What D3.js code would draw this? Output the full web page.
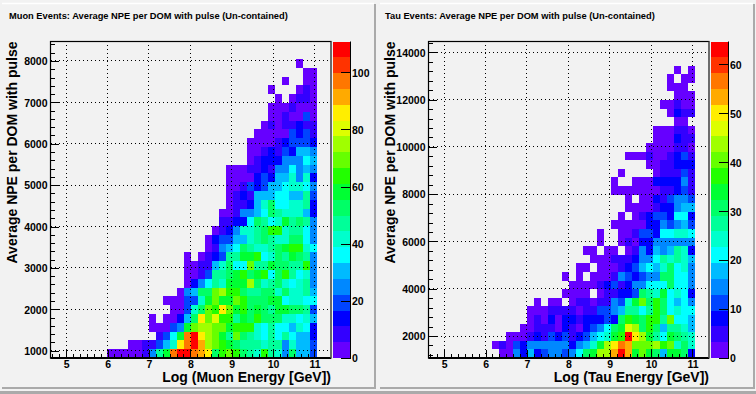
<!DOCTYPE html>
<html>
<head>
<meta charset="utf-8">
<script src="https://cdn.jsdelivr.net/npm/d3@7"></script>
<style>
    body { margin: 0; background: #f2f2f2; }
    text { font-family: "Liberation Sans", Arial, sans-serif; font-weight: bold; fill: #000; }
    .axis path { display: none; }
    .axis line { stroke: #000; stroke-width: 1; shape-rendering: crispEdges; }
    .grid-line { stroke: #000; stroke-width: 1; stroke-dasharray: 1 3; shape-rendering: crispEdges; }
</style>
</head>
<body>
<div id="chart"></div>
<script>
// colour bands, bottom to top
const palette = ["#6600ff", "#3300ff", "#0000ff", "#0044ff", "#0088ff", "#00bbff", "#00ffff", "#00ffcc",
    "#00ff99", "#00ff66", "#00ff33", "#22ff00", "#66ff00", "#a0ff00", "#ddff00", "#ffee00",
    "#ffaa00", "#ff7700", "#ff3300", "#ff0000"];

const yearTicks = [5, 6, 7, 8, 9, 10, 11];
const muonYTicks = [1000, 2000, 3000, 4000, 5000, 6000, 7000, 8000];
const tauYTicks = [2000, 4000, 6000, 8000, 10000, 12000, 14000];
const muonZTicks = [0, 20, 40, 60, 80, 100];
const tauZTicks = [0, 10, 20, 30, 40, 50, 60];

const muonCounts = [
    [3,3,3,3,3,8,25,47,58,97,108,108,97,91,86,53,64,69,64,53,47,42,64,47,42,25,53,30,30,19],
    [0,0,0,3,3,8,8,19,30,42,86,97,108,91,75,69,64,58,53,47,47,47,42,47,47,25,42,30,30,19],
    [0,0,0,0,0,0,0,8,19,36,58,97,108,86,75,69,58,47,69,53,47,42,36,47,36,47,36,30,30,14],
    [0,0,0,0,0,0,3,3,3,19,25,58,69,75,75,69,69,58,64,64,64,42,36,47,36,36,30,42,36,14],
    [0,0,0,0,0,0,3,0,3,3,14,30,53,86,69,80,64,64,47,58,53,64,53,53,53,42,42,36,42,30],
    [0,0,0,0,0,0,0,0,0,3,3,19,42,53,69,64,86,69,58,64,53,58,53,47,58,58,53,53,47,19],
    [0,0,0,0,0,0,0,0,3,3,3,19,19,42,58,69,58,58,69,64,53,53,53,58,58,36,42,42,36,36],
    [0,0,0,0,0,0,0,0,0,0,3,25,30,53,53,69,75,64,64,53,47,47,53,53,42,53,42,42,47,30],
    [0,0,0,0,0,0,0,0,0,0,0,3,14,25,36,47,42,58,58,58,75,53,42,47,53,42,36,42,47,25],
    [0,0,0,0,0,0,0,0,0,0,0,3,3,8,19,47,47,53,58,64,53,58,64,36,53,64,47,36,42,25],
    [0,0,0,0,0,0,0,0,0,0,0,3,3,8,8,30,42,53,36,36,69,47,47,58,53,53,47,47,64,25],
    [0,0,0,0,0,0,0,0,0,0,0,3,0,3,8,14,19,47,47,58,58,64,36,42,53,47,58,53,47,25],
    [0,0,0,0,0,0,0,0,0,0,0,0,0,0,3,8,25,30,36,53,47,42,42,47,53,58,64,64,42,36],
    [0,0,0,0,0,0,0,0,0,0,0,0,0,0,3,14,19,19,30,30,42,47,53,47,42,42,53,53,36,25],
    [0,0,0,0,0,0,0,0,0,0,0,0,0,0,0,3,8,14,25,42,42,47,53,64,64,42,47,47,36,25],
    [0,0,0,0,0,0,0,0,0,0,0,0,0,0,0,0,8,8,14,14,36,53,47,36,42,58,47,53,47,25],
    [0,0,0,0,0,0,0,0,0,0,0,0,0,0,0,0,3,3,8,25,25,30,36,53,47,42,42,42,30,14],
    [0,0,0,0,0,0,0,0,0,0,0,0,0,0,0,0,0,3,8,8,14,30,42,53,36,36,42,42,47,14],
    [0,0,0,0,0,0,0,0,0,0,0,0,0,0,0,0,0,3,8,14,8,30,30,30,36,36,30,30,47,19],
    [0,0,0,0,0,0,0,0,0,0,0,0,0,0,0,0,0,3,3,8,19,14,19,30,30,36,42,42,36,25],
    [0,0,0,0,0,0,0,0,0,0,0,0,0,0,0,0,0,3,3,3,3,14,19,14,30,30,42,25,42,14],
    [0,0,0,0,0,0,0,0,0,0,0,0,0,0,0,0,0,3,3,3,8,8,14,8,25,25,36,25,30,25],
    [0,0,0,0,0,0,0,0,0,0,0,0,0,0,0,0,0,0,0,0,3,8,14,14,14,25,25,25,36,30],
    [0,0,0,0,0,0,0,0,0,0,0,0,0,0,0,0,0,0,0,0,3,3,8,14,8,19,14,30,30,25],
    [0,0,0,0,0,0,0,0,0,0,0,0,0,0,0,0,0,0,0,0,3,3,3,3,8,14,19,19,19,14],
    [0,0,0,0,0,0,0,0,0,0,0,0,0,0,0,0,0,0,0,0,0,3,3,3,3,3,19,14,19,8],
    [0,0,0,0,0,0,0,0,0,0,0,0,0,0,0,0,0,0,0,0,0,0,3,8,3,8,8,14,8,8],
    [0,0,0,0,0,0,0,0,0,0,0,0,0,0,0,0,0,0,0,0,0,0,0,3,3,8,3,3,19,3],
    [0,0,0,0,0,0,0,0,0,0,0,0,0,0,0,0,0,0,0,0,0,0,0,3,3,3,8,3,3,3],
    [0,0,0,0,0,0,0,0,0,0,0,0,0,0,0,0,0,0,0,0,0,0,0,0,3,0,3,8,8,3],
    [0,0,0,0,0,0,0,0,0,0,0,0,0,0,0,0,0,0,0,0,0,0,0,3,0,0,0,3,8,3],
    [0,0,0,0,0,0,0,0,0,0,0,0,0,0,0,0,0,0,0,0,0,0,0,0,0,3,0,0,3,3],
    [0,0,0,0,0,0,0,0,0,0,0,0,0,0,0,0,0,0,0,0,0,0,0,0,0,0,0,0,3,3],
    [0,0,0,0,0,0,0,0,0,0,0,0,0,0,0,0,0,0,0,0,0,0,0,0,0,0,0,3,0,0]
];

const tauCounts = [
    [0,0,2,2,15,8,18,8,11,15,15,11,15,21,31,34,44,44,53,63,53,34,40,34,31,18,34,34,31,8],
    [0,2,5,2,11,8,15,15,15,15,15,15,8,15,18,24,34,44,50,57,53,40,40,40,44,37,40,24,31,24],
    [0,0,0,2,2,2,5,8,5,11,8,11,5,8,11,18,21,24,34,37,63,50,44,34,27,21,34,31,27,24],
    [0,0,0,0,0,2,2,5,5,5,2,8,5,2,8,11,15,21,31,34,47,44,31,37,31,18,27,27,24,18],
    [0,0,0,0,0,0,2,5,2,8,2,8,8,5,8,8,8,11,8,31,37,34,31,37,37,27,40,21,21,18],
    [0,0,0,0,0,0,2,2,2,5,5,5,5,2,5,5,11,11,15,18,27,27,21,27,37,31,21,24,21,21],
    [0,0,0,0,0,0,0,2,0,2,2,0,2,5,5,2,5,5,15,11,24,34,40,31,37,31,21,18,21,15],
    [0,0,0,0,0,0,0,0,0,0,0,2,2,2,2,0,2,5,5,8,8,11,31,27,24,34,21,24,21,8],
    [0,0,0,0,0,0,0,0,0,0,0,0,2,2,2,2,5,8,11,5,8,15,15,21,21,21,31,21,21,15],
    [0,0,0,0,0,0,0,0,0,0,0,2,0,2,0,2,2,2,5,15,11,8,11,15,15,31,31,21,21,15],
    [0,0,0,0,0,0,0,0,0,0,0,0,0,2,2,0,2,2,2,5,8,11,18,21,18,24,31,21,24,15],
    [0,0,0,0,0,0,0,0,0,0,0,0,0,0,0,2,2,2,5,5,5,8,15,15,21,27,24,27,24,18],
    [0,0,0,0,0,0,0,0,0,0,0,0,0,0,2,2,0,2,2,0,2,5,15,8,18,15,18,27,24,8],
    [0,0,0,0,0,0,0,0,0,0,0,0,0,0,0,0,2,0,0,2,5,2,8,8,15,15,15,15,15,15],
    [0,0,0,0,0,0,0,0,0,0,0,0,0,0,0,0,2,0,0,2,2,5,11,11,8,21,21,24,24,21],
    [0,0,0,0,0,0,0,0,0,0,0,0,0,0,0,0,0,0,2,2,2,2,2,8,8,15,11,15,18,11],
    [0,0,0,0,0,0,0,0,0,0,0,0,0,0,0,0,0,0,0,2,0,2,5,8,11,11,8,21,21,8],
    [0,0,0,0,0,0,0,0,0,0,0,0,0,0,0,0,0,0,0,0,2,2,2,2,5,8,8,15,18,18],
    [0,0,0,0,0,0,0,0,0,0,0,0,0,0,0,0,0,0,0,0,2,0,2,2,8,5,11,15,15,11],
    [0,0,0,0,0,0,0,0,0,0,0,0,0,0,0,0,0,0,2,2,2,2,2,2,2,5,5,8,11,5],
    [0,0,0,0,0,0,0,0,0,0,0,0,0,0,0,0,0,0,2,0,0,2,2,2,8,8,8,8,15,5],
    [0,0,0,0,0,0,0,0,0,0,0,0,0,0,0,0,0,0,0,2,0,0,0,0,2,5,5,5,11,5],
    [0,0,0,0,0,0,0,0,0,0,0,0,0,0,0,0,0,0,0,0,0,0,0,2,2,5,5,8,8,8],
    [0,0,0,0,0,0,0,0,0,0,0,0,0,0,0,0,0,0,0,0,2,2,2,5,2,2,5,8,11,5],
    [0,0,0,0,0,0,0,0,0,0,0,0,0,0,0,0,0,0,0,0,0,0,0,2,2,2,2,5,5,2],
    [0,0,0,0,0,0,0,0,0,0,0,0,0,0,0,0,0,0,0,0,0,0,0,0,2,2,2,8,5,5],
    [0,0,0,0,0,0,0,0,0,0,0,0,0,0,0,0,0,0,0,0,0,0,0,0,2,2,2,5,5,2],
    [0,0,0,0,0,0,0,0,0,0,0,0,0,0,0,0,0,0,0,0,0,0,0,0,0,0,0,2,2,0],
    [0,0,0,0,0,0,0,0,0,0,0,0,0,0,0,0,0,0,0,0,0,0,0,0,0,0,2,8,5,5],
    [0,0,0,0,0,0,0,0,0,0,0,0,0,0,0,0,0,0,0,0,0,0,0,0,0,2,2,5,2,2],
    [0,0,0,0,0,0,0,0,0,0,0,0,0,0,0,0,0,0,0,0,0,0,0,0,0,0,0,2,2,2],
    [0,0,0,0,0,0,0,0,0,0,0,0,0,0,0,0,0,0,0,0,0,0,0,0,0,0,2,2,2,0],
    [0,0,0,0,0,0,0,0,0,0,0,0,0,0,0,0,0,0,0,0,0,0,0,0,0,0,2,0,2,2],
    [0,0,0,0,0,0,0,0,0,0,0,0,0,0,0,0,0,0,0,0,0,0,0,0,0,0,0,2,0,2]
];

class HeatPanel {
    constructor(svg, opts) {
        this.opts = opts;
        this.g = svg.append("g").attr("transform", `translate(${opts.left}, 0)`);
        this.frame = { left: 50.5, right: 331, top: 41.5, bottom: 358 };
        this.x = d3.scaleLinear().domain([4.62, 11.4]).range([this.frame.left, this.frame.right]);
        this.y = d3.scaleLinear().domain(opts.yDomain).range([this.frame.bottom, this.frame.top]);
        this.z = d3.scaleLinear().domain([0, opts.zMax]).range([this.frame.bottom, this.frame.top]);
        this.color = d3.scaleQuantize().domain([0, opts.zMax]).range(palette);
    }

    render() {
        this.renderBackground();
        this.renderCells();
        this.renderGrid();
        this.renderAxes();
        this.renderPaletteBar();
        this.renderTitles();
    }

    renderBackground() {
        const o = this.opts;
        this.g.append("rect").attr("x", o.boxX).attr("y", 4).attr("width", o.boxW).attr("height", 383)
            .attr("fill", "#f2f2f2");
        this.g.append("line").attr("x1", o.boxX).attr("x2", o.boxX + o.boxW).attr("y1", 3.5).attr("y2", 3.5)
            .attr("stroke", "#fff").attr("stroke-width", 1.5);
        this.g.append("line").attr("x1", o.boxX + o.boxW + 1).attr("x2", o.boxX + o.boxW + 1).attr("y1", 4).attr("y2", 388)
            .attr("stroke", "#aaa").attr("stroke-width", 2);
        this.g.append("line").attr("x1", o.boxX).attr("x2", o.boxX + o.boxW + 2).attr("y1", 388).attr("y2", 388)
            .attr("stroke", "#aaa").attr("stroke-width", 2);
        this.g.append("line").attr("x1", o.boxX - 4).attr("x2", o.boxX + o.boxW + 4).attr("y1", 392.5).attr("y2", 392.5)
            .attr("stroke", "#aaa").attr("stroke-width", 3);
    }

    renderCells() {
        const o = this.opts;
        const cells = [];
        o.counts.forEach((row, r) => row.forEach((count, c) => {
            if (count > 0) cells.push({ r, c, count });
        }));
        const binX = i => 4.62 + (i + 8) * 0.1695;
        const binY = r => o.yDomain[0] + r * o.yBin;

        this.g.append("g").selectAll("rect")
            .data(cells)
            .join("rect")
            .attr("x", d => this.x(binX(d.c)))
            .attr("y", d => this.y(binY(d.r + 1)))
            .attr("width", d => this.x(binX(d.c + 1)) - this.x(binX(d.c)))
            .attr("height", d => this.y(binY(d.r)) - this.y(binY(d.r + 1)))
            .attr("fill", d => this.color(d.count))
            .attr("shape-rendering", "crispEdges");
    }

    renderGrid() {
        const f = this.frame;
        this.g.append("g").selectAll("line.v")
            .data(yearTicks)
            .join("line")
            .attr("class", "grid-line")
            .attr("x1", d => this.x(d)).attr("x2", d => this.x(d))
            .attr("y1", f.bottom).attr("y2", f.top);
        this.g.append("g").selectAll("line.h")
            .data(this.opts.yTicks)
            .join("line")
            .attr("class", "grid-line")
            .attr("x1", f.left).attr("x2", f.right)
            .attr("y1", d => this.y(d)).attr("y2", d => this.y(d));
    }

    renderAxes() {
        const f = this.frame, o = this.opts;
        const [y0, y1] = o.yDomain;
        const yMinor = d3.range(o.yTicks[0] % o.yMajor, y1, o.yMajor / 5).filter(d => d >= y0);
        const xMinor = d3.range(0, 42).map(i => 4 + i / 6).filter(d => d >= 4.62 && d <= 11.4);

        // bottom axis: tick marks point up into the frame
        this.g.append("g").attr("class", "axis").attr("transform", `translate(0, ${f.bottom})`)
            .call(d3.axisBottom(this.x).tickValues(xMinor).tickSize(-4).tickFormat(""));
        const xAxis = this.g.append("g").attr("class", "axis").attr("transform", `translate(0, ${f.bottom})`)
            .call(d3.axisBottom(this.x).tickValues(yearTicks).tickSize(-8).tickFormat(d3.format("d")));
        xAxis.selectAll("text").style("font-size", "10.5px").attr("y", 1.5).attr("dy", "0.85em");

        this.g.append("g").attr("class", "axis").attr("transform", `translate(${f.left}, 0)`)
            .call(d3.axisLeft(this.y).tickValues(yMinor).tickSize(-4).tickFormat(""));
        const yAxis = this.g.append("g").attr("class", "axis").attr("transform", `translate(${f.left}, 0)`)
            .call(d3.axisLeft(this.y).tickValues(o.yTicks).tickSize(-8).tickFormat(d3.format("d")));
        yAxis.selectAll("text").style("font-size", "10.5px").attr("x", -3).attr("dy", "0.36em");

        this.g.append("rect")
            .attr("x", f.left).attr("y", f.top)
            .attr("width", f.right - f.left).attr("height", f.bottom - f.top)
            .attr("fill", "none").attr("stroke", "#000").attr("stroke-width", 1.2);
        this.g.append("line").attr("x1", f.left).attr("x2", f.right).attr("y1", f.bottom).attr("y2", f.bottom)
            .attr("stroke", "#000").attr("stroke-width", 2);
    }

    renderPaletteBar() {
        const f = this.frame, o = this.opts;
        const barX = 332.5, barW = 18;
        const band = o.zMax / palette.length;

        this.g.append("g").selectAll("rect")
            .data(palette)
            .join("rect")
            .attr("x", barX)
            .attr("y", (d, i) => this.z((i + 1) * band))
            .attr("width", barW)
            .attr("height", (d, i) => this.z(i * band) - this.z((i + 1) * band))
            .attr("fill", d => d)
            .attr("shape-rendering", "crispEdges");

        this.g.append("line").attr("x1", barX - 1.5).attr("x2", barX - 1.5).attr("y1", f.top).attr("y2", f.bottom)
            .attr("stroke", "#777").attr("stroke-width", 1);

        const zAxis = this.g.append("g").attr("class", "axis").attr("transform", `translate(${barX + barW}, 0)`)
            .call(d3.axisRight(this.z).tickValues(o.zTicks).tickSize(-10).tickFormat(d3.format("d")));
        zAxis.selectAll("text").style("font-size", "10.5px").attr("x", 1.5).attr("dy", "0.36em");

        this.g.append("line").attr("x1", barX + barW).attr("x2", barX + barW).attr("y1", f.top).attr("y2", f.bottom)
            .attr("stroke", "#000").attr("stroke-width", 1);
    }

    renderTitles() {
        const f = this.frame, o = this.opts;
        this.g.append("text").attr("x", o.titleX).attr("y", 19)
            .style("font-size", "9.3px").text(o.title);
        this.g.append("text").attr("x", f.right).attr("y", 382)
            .attr("text-anchor", "end").style("font-size", "14px").text(o.xLabel);
        this.g.append("text")
            .attr("transform", `translate(17, ${f.top}) rotate(-90)`)
            .attr("text-anchor", "end").style("font-size", "14px").text(o.yLabel);
    }
}

const svg = d3.select("#chart").append("svg").attr("width", 756).attr("height", 394).style("display", "block");

new HeatPanel(svg, {
    left: 0, boxX: 2, boxW: 372, titleX: 9,
    title: "Muon Events: Average NPE per DOM with pulse (Un-contained)",
    xLabel: "Log (Muon Energy [GeV])", yLabel: "Average NPE per DOM with pulse",
    counts: muonCounts, yDomain: [824, 8470], yBin: 212.4,
    yTicks: muonYTicks, yMajor: 1000, zMax: 110.8, zTicks: muonZTicks
}).render();

new HeatPanel(svg, {
    left: 378, boxX: 2, boxW: 373, titleX: 7,
    title: "Tau Events: Average NPE per DOM with pulse (Un-contained)",
    xLabel: "Log (Tau Energy [GeV])", yLabel: "Average NPE per DOM with pulse",
    counts: tauCounts, yDomain: [1070, 14457], yBin: 363.7,
    yTicks: tauYTicks, yMajor: 2000, zMax: 64.7, zTicks: tauZTicks
}).render();
</script>
</body>
</html>
